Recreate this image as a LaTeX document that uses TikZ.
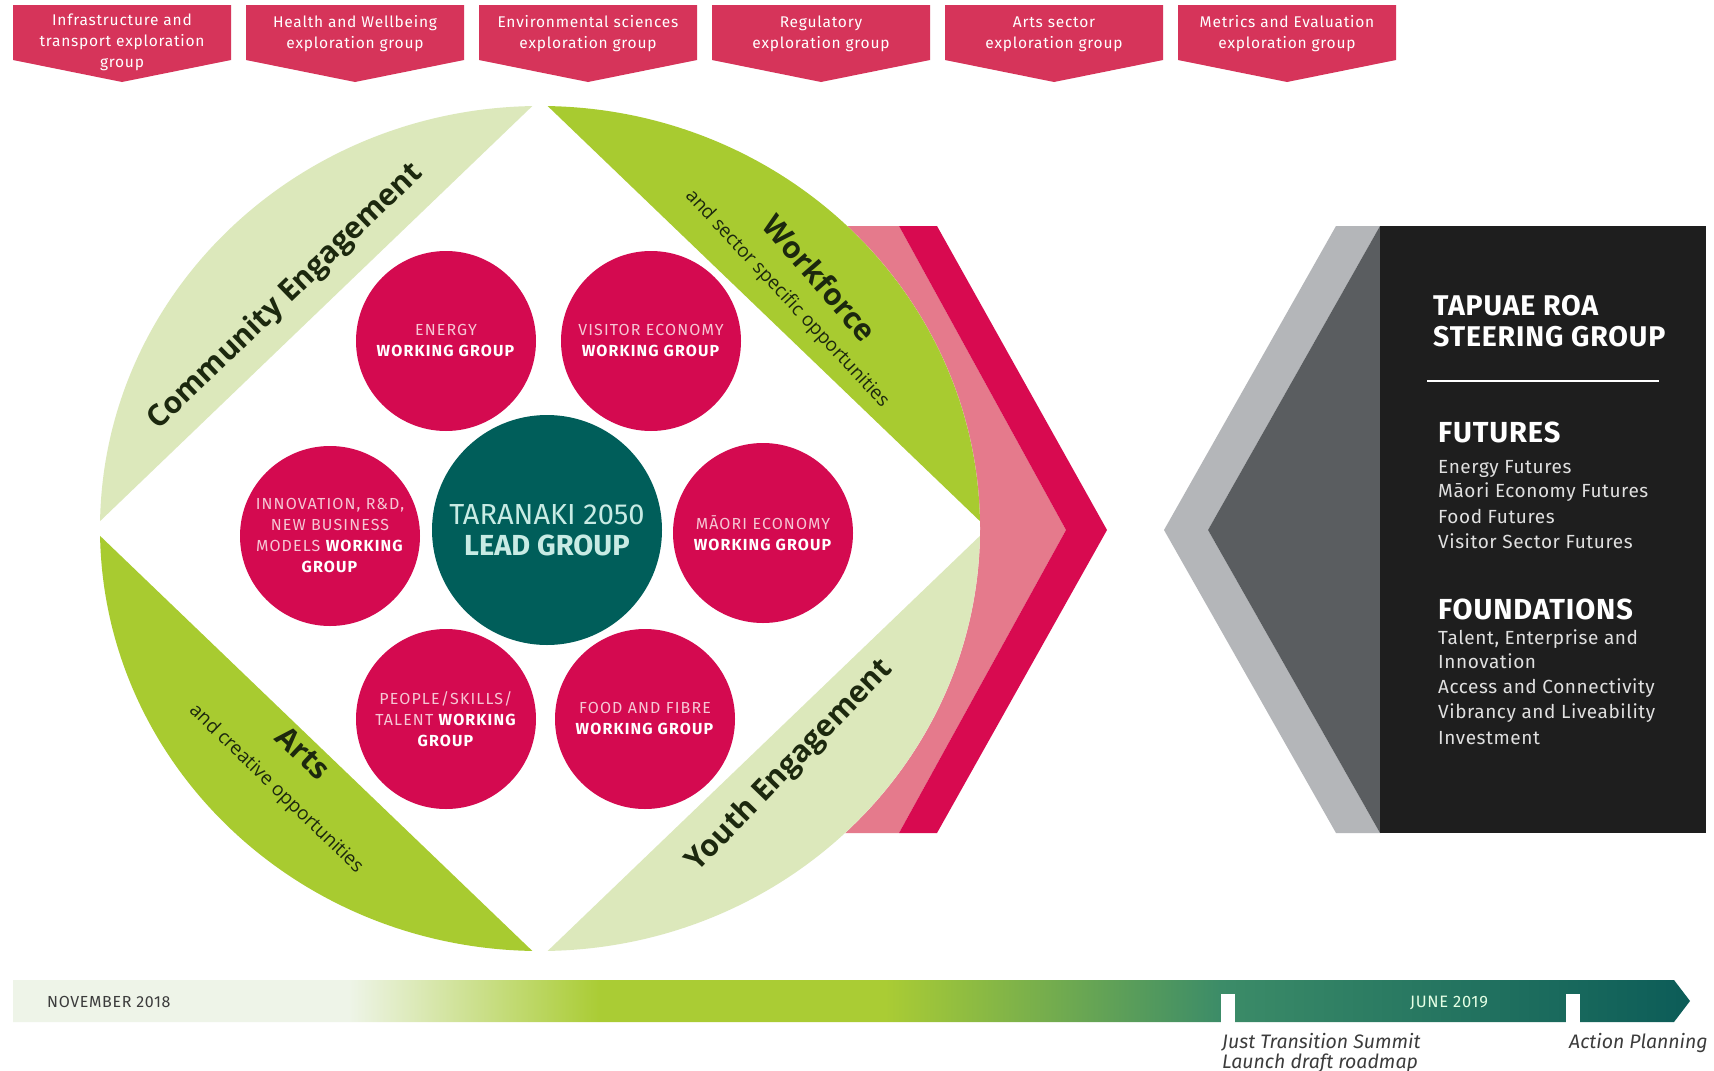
\documentclass[tikz,border=0pt]{standalone}
\usepackage{fontspec}
\setmainfont{Fira Sans}
\newfontfamily\segfont{Open Sans}
\newfontfamily\wgfont{Fira Sans}[LetterSpace=7]
\newfontfamily\banfont{Fira Sans}[LetterSpace=5]
\newfontfamily\panfont{Fira Sans}[LetterSpace=3]
\newfontfamily\tlfont{Fira Sans}[LetterSpace=4]
\definecolor{bannerc}{RGB}{214,52,90}
\definecolor{wgred}{RGB}{212,10,80}
\definecolor{wglt}{RGB}{246,198,212}
\definecolor{pinklight}{RGB}{229,122,140}
\definecolor{pinkdark}{RGB}{216,10,80}
\definecolor{limeg}{RGB}{168,203,48}
\definecolor{paleg}{RGB}{220,232,187}
\definecolor{leadteal}{RGB}{0,94,90}
\definecolor{leadlt}{RGB}{200,235,228}
\definecolor{seglabc}{RGB}{28,40,14}
\definecolor{greylt}{RGB}{180,182,185}
\definecolor{greydk}{RGB}{90,93,96}
\definecolor{panelblk}{RGB}{30,30,30}
\definecolor{tlwhite}{RGB}{238,244,232}
\definecolor{tllime}{RGB}{170,204,52}
\definecolor{tlmid}{RGB}{60,140,104}
\definecolor{tlend}{RGB}{12,92,88}
\definecolor{tlgrey}{RGB}{60,60,60}
\pgfdeclarehorizontalshading{tlshade}{100bp}{color(0bp)=(tlwhite); color(25bp)=(tlwhite); color(35bp)=(tlwhite); color(42.5bp)=(tllime); color(51bp)=(tllime); color(61bp)=(tlmid); color(75bp)=(tlend); color(100bp)=(tlend)}
\tikzset{
  bantext/.style={align=center, text=white, inner sep=0pt, font=\banfont\fontsize{15.5}{21}\selectfont},
  wg/.style={circle, fill=wgred, minimum size=180pt, inner sep=0pt, align=center, text=white, font=\wgfont\fontsize{16}{21}\selectfont},
  leadc/.style={circle, fill=leadteal, minimum size=230pt, inner sep=0pt, align=center, text=leadlt, font=\fontsize{29}{31}\selectfont},
  seglab/.style={text=seglabc, inner sep=0pt, font=\segfont\bfseries\fontsize{30}{32}\selectfont},
  subl/.style={text=seglabc, inner sep=0pt, font=\segfont\fontsize{19}{21}\selectfont},
  ptitle/.style={anchor=base west, text=white, inner sep=0pt, font=\panfont\bfseries\fontsize{28.5}{30}\selectfont},
  phead/.style={anchor=base west, text=white, inner sep=0pt, font=\panfont\bfseries\fontsize{29}{31}\selectfont},
  pitem/.style={anchor=base west, text=white!88!black, inner sep=0pt, font=\panfont\fontsize{19}{21}\selectfont},
  tllab/.style={anchor=base west, text=tlgrey, inner sep=0pt, font=\itshape\fontsize{19.5}{20}\selectfont}
}
\begin{document}
\begin{tikzpicture}[x=1pt,y=-1pt]
\useasboundingbox[fill=white] (0,0) rectangle (1714,1071);

% top banners
\foreach \bx in {13,246,479,712,945,1178}
  \fill[bannerc] (\bx,5) -- ++(218,0) -- ++(0,55) -- ++(-109,22) -- ++(-109,-22) -- cycle;
\node[bantext] (b1) at (122,42) {Infrastructure and\\transport exploration\\group};
\node[bantext] (b2) at (355,34) {Health and Wellbeing\\exploration group};
\node[bantext] (b3) at (588,34) {Environmental sciences\\exploration group};
\node[bantext] (b4) at (821,34) {Regulatory\\exploration group};
\node[bantext] (b5) at (1054,34) {Arts sector\\exploration group};
\node[bantext] (b6) at (1287,34) {Metrics and Evaluation\\exploration group};

% pink chevrons
\fill[pinklight] (820,226) -- (899,226) -- (1066,530) -- (899,833) -- (820,833) -- (700,530) -- cycle;
\fill[pinkdark] (899,226) -- (937,226) -- (1107,530) -- (937,833) -- (899,833) -- (1066,530) -- cycle;
\fill[white] (540,528.5) ellipse [x radius=440, y radius=422.5];

% segments
\fill[paleg] (532.32,106.06) arc[start angle=-91, end angle=-179, x radius=440, y radius=422.5] -- cycle;
\fill[limeg] (547.68,106.06) arc[start angle=-89, end angle=-1, x radius=440, y radius=422.5] -- cycle;
\fill[paleg] (979.93,535.87) arc[start angle=1, end angle=89, x radius=440, y radius=422.5] -- cycle;
\fill[limeg] (532.32,950.94) arc[start angle=91, end angle=179, x radius=440, y radius=422.5] -- cycle;

\node[seglab, rotate=44] (ce) at (286,297) {Community Engagement};
\node[seglab, rotate=46] (ye) at (790,766) {Youth Engagement};
\node[seglab, rotate=-49] (wf) at (820,278) {Workforce};
\node[subl, rotate=-47] (wfs) at (787,299) {and sector specific opportunities};
\node[seglab, rotate=-43] (ar) at (303,753) {Arts};
\node[subl, rotate=-44] (ars) at (276,789) {and creative opportunities};

% working groups
\node[wg] (energy) at (446,341) {{\color{wglt}ENERGY}\\\textbf{WORKING GROUP}};
\node[wg] (visitor) at (651,341) {{\color{wglt}VISITOR ECONOMY}\\\textbf{WORKING GROUP}};
\node[wg] (innov) at (330,536) {{\color{wglt}INNOVATION, R\&D,}\\{\color{wglt}NEW BUSINESS}\\{\color{wglt}MODELS} \textbf{WORKING}\\\textbf{GROUP}};
\node[wg] (maori) at (763,533) {{\color{wglt}MĀORI ECONOMY}\\\textbf{WORKING GROUP}};
\node[wg] (people) at (446,719) {{\color{wglt}PEOPLE/SKILLS/}\\{\color{wglt}TALENT} \textbf{WORKING}\\\textbf{GROUP}};
\node[wg] (food) at (645,719) {{\color{wglt}FOOD AND FIBRE}\\\textbf{WORKING GROUP}};
\node[leadc] (lead) at (547,530) {TARANAKI 2050\\\textbf{LEAD GROUP}};

% steering panel
\fill[greylt] (1336,226) -- (1380,226) -- (1208,530) -- (1380,833) -- (1336,833) -- (1164,530) -- cycle;
\fill[greydk] (1380,226) -- (1380,833) -- (1208,530) -- cycle;
\fill[panelblk] (1380,226) rectangle (1706,833);
\node[ptitle] (t1) at (1433,315) {TAPUAE ROA};
\node[ptitle] (t2) at (1433,346) {STEERING GROUP};
\draw[white, line width=2pt] (1427,381) -- (1659,381);
\node[phead] (fut) at (1438,442) {FUTURES};
\node[pitem] (f1) at (1438,473) {Energy Futures};
\node[pitem] (f2) at (1438,497) {Māori Economy Futures};
\node[pitem] (f3) at (1438,523) {Food Futures};
\node[pitem] (f4) at (1438,548) {Visitor Sector Futures};
\node[phead] (fnd) at (1438,619) {FOUNDATIONS};
\node[pitem] (g1) at (1438,644) {Talent, Enterprise and};
\node[pitem] (g2) at (1438,668) {Innovation};
\node[pitem] (g3) at (1438,693) {Access and Connectivity};
\node[pitem] (g4) at (1438,718) {Vibrancy and Liveability};
\node[pitem] (g5) at (1438,744) {Investment};

% timeline
\shade[shading=tlshade] (13,980) -- (1674,980) -- (1690,1001) -- (1674,1022) -- (13,1022) -- cycle;
\fill[white] (1221,994) rectangle (1235,1023);
\fill[white] (1566,994) rectangle (1580,1023);
\node[anchor=base west, text=tlgrey, inner sep=0pt, font=\tlfont\fontsize{16}{18}\selectfont] (nov) at (47,1007) {NOVEMBER 2018};
\node[anchor=base, text=white!90!green, inner sep=0pt, font=\tlfont\fontsize{16.5}{18}\selectfont] (jun) at (1449,1007) {JUNE 2019};
\node[tllab] (jts) at (1222,1048) {Just Transition Summit};
\node[tllab] (ldr) at (1222,1068) {Launch draft roadmap};
\node[tllab] (ap) at (1569,1048) {Action Planning};
\end{tikzpicture}
\end{document}
